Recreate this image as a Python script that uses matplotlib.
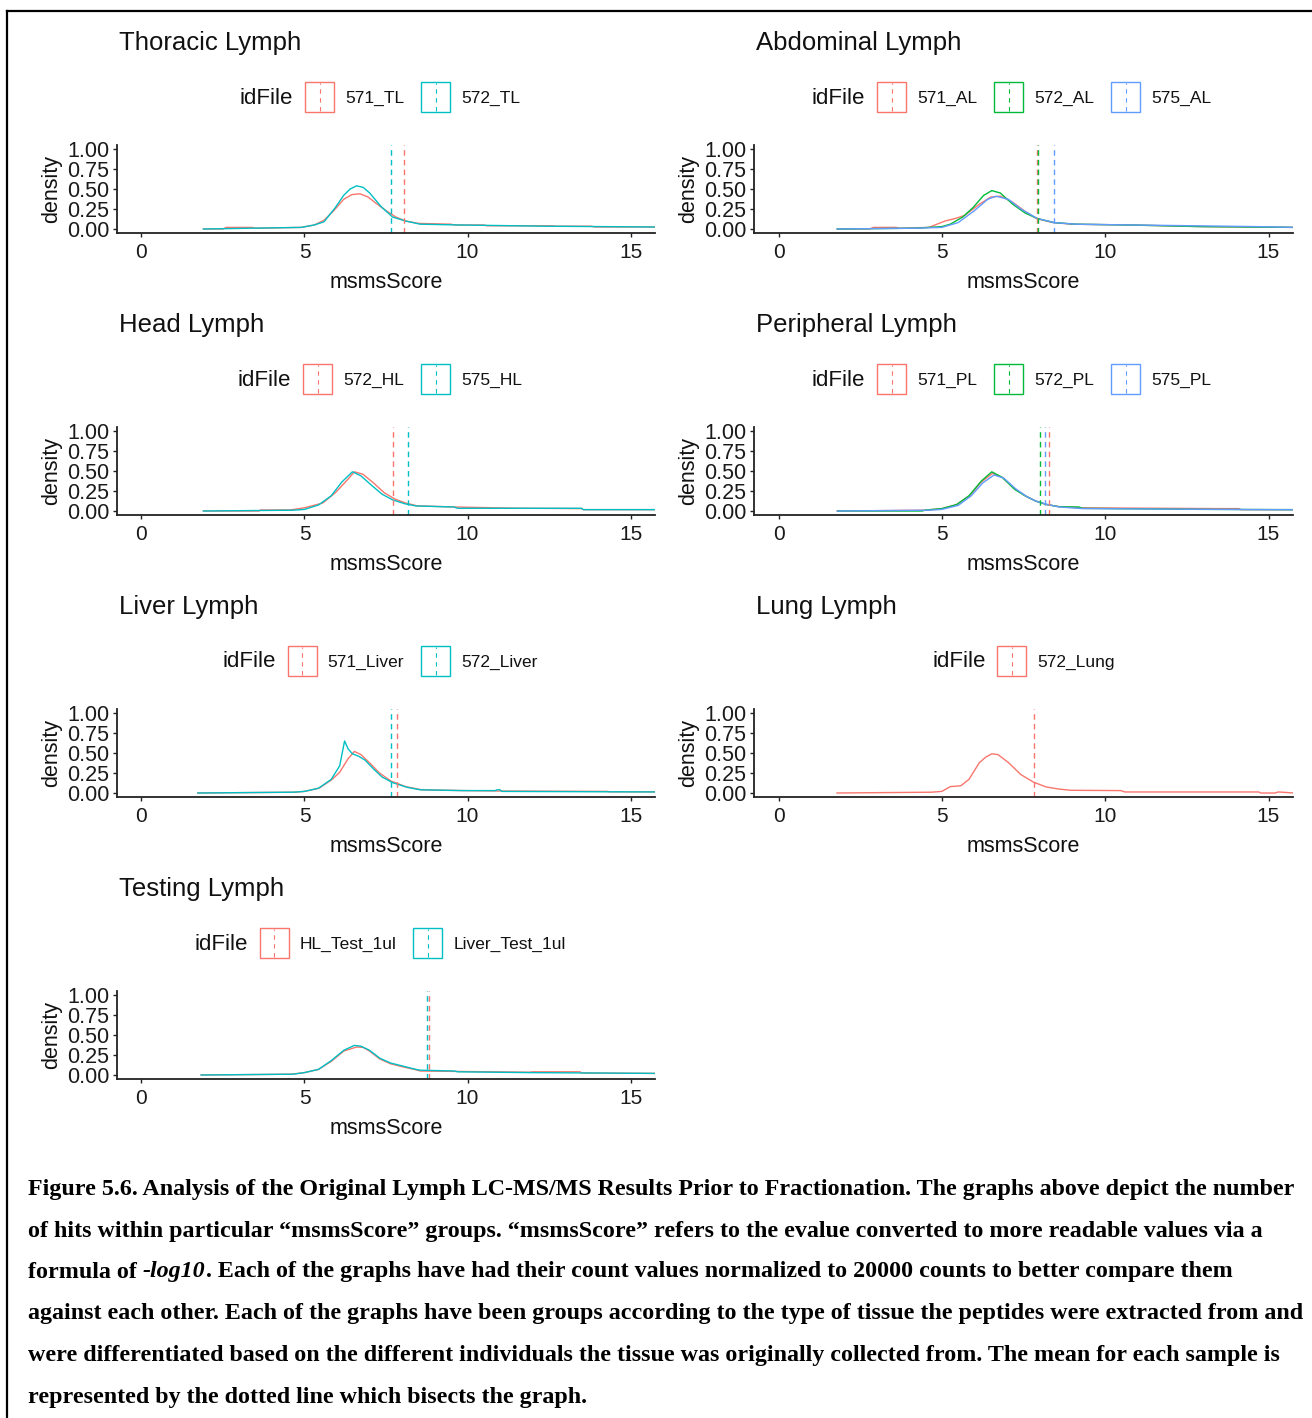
import matplotlib
matplotlib.use("Agg")
import matplotlib.pyplot as plt
from matplotlib.patches import Rectangle
from matplotlib.lines import Line2D

W, H = 1312, 1418
RED, CYAN, GREEN, BLUE = "#F8766D", "#00BFC4", "#00BA38", "#619CFF"

# ---- data (density vs msmsScore) ----
tl571_x = [1.9, 2.5, 2.6, 3.4, 3.5, 4.9, 5.3, 5.6, 5.9, 6.2, 6.45, 6.7, 6.95, 7.2, 7.5, 7.8, 8.1, 8.5, 9.5, 9.6, 10.5, 10.6, 12.6, 12.7, 13.8, 13.9, 15.8]
tl571_y = [0.0, 0.0, 0.02, 0.02, 0.01, 0.02, 0.05, 0.11, 0.23, 0.37, 0.43, 0.44, 0.40, 0.32, 0.23, 0.15, 0.10, 0.07, 0.06, 0.05, 0.05, 0.04, 0.04, 0.035, 0.035, 0.025, 0.025]
tl572_x = [1.9, 4.9, 5.3, 5.6, 5.95, 6.2, 6.4, 6.6, 6.8, 7.0, 7.35, 7.7, 8.1, 8.55, 9.8, 12.4, 15.8]
tl572_y = [0.0, 0.02, 0.05, 0.09, 0.27, 0.42, 0.50, 0.54, 0.52, 0.45, 0.28, 0.15, 0.10, 0.06, 0.05, 0.035, 0.025]
tl_means = [8.06, 7.66]

al571_x = [1.8, 2.8, 2.9, 3.6, 3.7, 4.6, 5.1, 5.4, 5.7, 6.15, 6.5, 6.8, 7.15, 7.55, 7.9, 8.4, 9.0, 10.8, 13.0, 15.8]
al571_y = [0.0, 0.0, 0.02, 0.02, 0.01, 0.02, 0.10, 0.13, 0.17, 0.31, 0.40, 0.41, 0.34, 0.22, 0.13, 0.08, 0.06, 0.05, 0.03, 0.02]
al572_x = [1.8, 4.2, 5.0, 5.26, 5.64, 5.96, 6.28, 6.53, 6.79, 7.17, 7.55, 7.93, 8.44, 9.1, 10.7, 12.9, 15.8]
al572_y = [0.0, 0.01, 0.03, 0.06, 0.15, 0.27, 0.42, 0.48, 0.45, 0.31, 0.20, 0.13, 0.08, 0.06, 0.05, 0.03, 0.02]
al575_x = [1.8, 4.2, 5.0, 5.5, 6.0, 6.4, 6.66, 7.04, 7.42, 7.93, 8.44, 9.1, 10.9, 14.6, 15.8]
al575_y = [0.0, 0.01, 0.02, 0.08, 0.23, 0.37, 0.41, 0.37, 0.25, 0.13, 0.08, 0.06, 0.05, 0.03, 0.02]
al_means = [7.91, 7.93, 8.42]

hl572_x = [1.9, 3.6, 3.65, 4.55, 5.0, 5.56, 5.95, 6.34, 6.53, 6.79, 7.12, 7.44, 7.77, 8.1, 8.45, 9.6, 11.5, 13.5, 13.55, 15.8]
hl572_y = [0.0, 0.0, 0.013, 0.013, 0.04, 0.10, 0.23, 0.40, 0.49, 0.46, 0.35, 0.23, 0.15, 0.10, 0.065, 0.05, 0.035, 0.03, 0.017, 0.017]
hl575_x = [1.9, 4.65, 5.0, 5.43, 5.82, 6.14, 6.47, 6.73, 7.06, 7.38, 7.7, 8.08, 8.42, 9.58, 9.7, 13.5, 13.55, 15.8]
hl575_y = [0.0, 0.01, 0.02, 0.075, 0.19, 0.36, 0.49, 0.44, 0.32, 0.21, 0.14, 0.09, 0.063, 0.05, 0.034, 0.034, 0.017, 0.017]
hl_means = [7.70, 8.16]

pl571_x = [1.8, 4.5, 5.0, 5.45, 5.85, 6.2, 6.55, 6.85, 7.23, 7.55, 7.87, 8.2, 8.6, 9.2, 13.5, 14.1, 14.15, 15.8]
pl571_y = [0.0, 0.01, 0.03, 0.08, 0.19, 0.36, 0.47, 0.42, 0.28, 0.19, 0.125, 0.08, 0.055, 0.04, 0.03, 0.03, 0.017, 0.017]
pl572_x = [1.81, 4.4, 4.5, 5.0, 5.45, 5.83, 6.21, 6.53, 6.85, 7.23, 7.55, 7.87, 8.19, 8.57, 9.2, 9.3, 13.0, 15.8]
pl572_y = [0.0, 0.0, 0.012, 0.03, 0.08, 0.19, 0.375, 0.49, 0.42, 0.27, 0.19, 0.125, 0.083, 0.054, 0.05, 0.033, 0.02, 0.017]
pl575_x = [1.8, 4.6, 5.0, 5.5, 5.9, 6.25, 6.6, 6.9, 7.25, 7.6, 7.9, 8.25, 8.6, 9.3, 15.8]
pl575_y = [0.0, 0.01, 0.02, 0.07, 0.19, 0.35, 0.45, 0.41, 0.28, 0.18, 0.12, 0.08, 0.05, 0.03, 0.015]
pl_means = [8.29, 8.00, 8.16]

lv571_x = [1.73, 4.7, 5.0, 5.45, 5.85, 6.08, 6.34, 6.53, 6.73, 6.99, 7.3, 7.65, 8.1, 8.6, 9.9, 10.9, 14.3, 14.35, 15.8]
lv571_y = [0.0, 0.01, 0.02, 0.06, 0.17, 0.26, 0.43, 0.52, 0.48, 0.38, 0.25, 0.15, 0.08, 0.04, 0.03, 0.025, 0.02, 0.015, 0.015]
lv572_x = [1.73, 4.65, 5.0, 5.43, 5.82, 6.08, 6.23, 6.34, 6.47, 6.66, 6.86, 7.12, 7.38, 7.7, 8.16, 8.55, 9.84, 10.85, 10.9, 11.0, 11.05, 15.8]
lv572_y = [0.0, 0.01, 0.02, 0.06, 0.17, 0.34, 0.65, 0.55, 0.49, 0.46, 0.41, 0.30, 0.20, 0.13, 0.07, 0.04, 0.03, 0.03, 0.04, 0.04, 0.02, 0.013]
lv_means = [7.83, 7.64]

lg572_x = [1.79, 4.68, 5.0, 5.26, 5.58, 5.83, 6.15, 6.35, 6.53, 6.72, 7.04, 7.42, 7.81, 8.19, 8.57, 8.95, 10.48, 10.6, 14.7, 14.76, 15.2, 15.3, 15.78]
lg572_y = [0.0, 0.01, 0.02, 0.08, 0.09, 0.17, 0.38, 0.45, 0.49, 0.48, 0.38, 0.23, 0.135, 0.076, 0.05, 0.034, 0.03, 0.013, 0.013, 0.0, 0.0, 0.013, 0.0]
lg_means = [7.81]

hlt_x = [1.83, 4.6, 5.0, 5.43, 5.82, 6.21, 6.6, 6.8, 6.99, 7.31, 7.64, 8.03, 8.42, 8.55, 9.6, 11.9, 12.0, 13.45, 13.5, 15.75]
hlt_y = [0.0, 0.01, 0.03, 0.07, 0.17, 0.30, 0.35, 0.345, 0.30, 0.20, 0.14, 0.10, 0.065, 0.05, 0.045, 0.035, 0.04, 0.04, 0.025, 0.02]
lvt_x = [1.83, 4.65, 5.0, 5.43, 5.82, 6.21, 6.53, 6.73, 6.99, 7.31, 7.64, 8.03, 8.42, 8.55, 9.6, 9.7, 11.9, 15.75]
lvt_y = [0.0, 0.01, 0.03, 0.07, 0.18, 0.31, 0.37, 0.36, 0.31, 0.21, 0.15, 0.11, 0.07, 0.06, 0.05, 0.04, 0.03, 0.02]
test_means = [8.83, 8.77]

panels = [
    ("Thoracic Lymph", ["571_TL", "572_TL"], [RED, CYAN], [(tl571_x, tl571_y), (tl572_x, tl572_y)], tl_means),
    ("Abdominal Lymph", ["571_AL", "572_AL", "575_AL"], [RED, GREEN, BLUE],
     [(al571_x, al571_y), (al572_x, al572_y), (al575_x, al575_y)], al_means),
    ("Head Lymph", ["572_HL", "575_HL"], [RED, CYAN], [(hl572_x, hl572_y), (hl575_x, hl575_y)], hl_means),
    ("Peripheral Lymph", ["571_PL", "572_PL", "575_PL"], [RED, GREEN, BLUE],
     [(pl571_x, pl571_y), (pl572_x, pl572_y), (pl575_x, pl575_y)], pl_means),
    ("Liver Lymph", ["571_Liver", "572_Liver"], [RED, CYAN], [(lv571_x, lv571_y), (lv572_x, lv572_y)], lv_means),
    ("Lung Lymph", ["572_Lung"], [RED], [(lg572_x, lg572_y)], lg_means),
    ("Testing Lymph", ["HL_Test_1ul", "Liver_Test_1ul"], [RED, CYAN], [(hlt_x, hlt_y), (lvt_x, lvt_y)], test_means),
]

caption = [
    [("Figure 5.6. Analysis of the Original Lymph LC-MS/MS Results Prior to Fractionation. The graphs above depict the number", "normal")],
    [("of hits within particular \u201cmsmsScore\u201d groups. \u201cmsmsScore\u201d refers to the evalue converted to more readable values via a", "normal")],
    [("formula of ", "normal"), ("-log10", "italic"),
     (". Each of the graphs have had their count values normalized to 20000 counts to better compare them", "normal")],
    [("against each other. Each of the graphs have been groups according to the type of tissue the peptides were extracted from and", "normal")],
    [("were differentiated based on the different individuals the tissue was originally collected from. The mean for each sample is", "normal")],
    [("represented by the dotted line which bisects the graph.", "normal")],
]

plt.rcParams["font.family"] = ["Liberation Sans", "DejaVu Sans"]
fig = plt.figure(figsize=(W / 100, H / 100), dpi=100)
rend = fig.canvas.get_renderer()


def fx(p):
    return p / W


def fy(p):
    return 1 - p / H


def text_w(t):
    return t.get_window_extent(rend).width


def draw_legend(cx, cy, labels, colors):
    title = fig.text(0, fy(cy + 1), "idFile", fontsize=16, va="center", ha="left", color="#111111")
    texts = [fig.text(0, fy(cy + 1), lab, fontsize=12.5, va="center", ha="left", color="#111111") for lab in labels]
    tw = text_w(title)
    lws = [text_w(t) for t in texts]
    total = tw + sum(12 + 29 + 11 + w for w in lws) + 17 * (len(labels) - 1)
    x = cx - total / 2
    title.set_x(fx(x))
    x += tw + 12
    for t, w, col in zip(texts, lws, colors):
        fig.add_artist(Rectangle((fx(x), fy(cy + 15)), 29 / W, 30 / H, transform=fig.transFigure,
                                 fill=False, ec=col, lw=1.0))
        fig.add_artist(Line2D([fx(x + 14.5)] * 2, [fy(cy + 14), fy(cy - 14)], transform=fig.transFigure,
                              color=col, lw=0.8, ls=(0, (4, 4))))
        x += 29 + 11
        t.set_x(fx(x))
        x += w + 17


col_x = [(117, 655), (754, 1293)]
row_top = [145, 427, 709, 991]
AX_H = 88

for i, (title, labels, colors, curves, means) in enumerate(panels):
    r, c = divmod(i, 2)
    x0, x1 = col_x[c]
    top = row_top[r]
    ax = fig.add_axes([fx(x0), fy(top + AX_H), (x1 - x0) / W, AX_H / H])
    for (xs, ys), col in zip(curves, colors):
        ax.plot(xs, ys, color=col, lw=1.0)
    for m, col in zip(means, colors):
        ax.axvline(m, color=col, lw=1.0, ls=(0, (4, 3)))
    ax.set_xlim(-0.75, 15.75)
    ax.set_ylim(-0.05, 1.05)
    ax.set_xticks([0, 5, 10, 15])
    ax.set_yticks([0, 0.25, 0.5, 0.75, 1.0])
    ax.set_yticklabels(["0.00", "0.25", "0.50", "0.75", "1.00"])
    for s in ["top", "right"]:
        ax.spines[s].set_visible(False)
    for s in ["left", "bottom"]:
        ax.spines[s].set_linewidth(1.3)
        ax.spines[s].set_color("#222222")
    ax.tick_params(length=3, width=1.0, color="#222222", labelsize=15, labelcolor="#1a1a1a", pad=2.5)
    ax.tick_params(axis="x", pad=4.5)
    ax.tick_params(axis="y", labelsize=15.5)
    ax.set_xlabel("msmsScore", fontsize=15.5, color="#111111")
    ax.xaxis.set_label_coords(0.5, -0.445)
    ax.set_ylabel("density", fontsize=15.5, color="#111111")
    ax.yaxis.set_label_coords(-0.102, 0.5)
    fig.text(fx(x0 + 2), fy(top - 102), title, fontsize=18.5, va="center", ha="left", color="#111111")
    draw_legend((x0 + x1) / 2, top - 48, labels, colors)

# frame lines
fig.add_artist(Line2D([fx(7), 1], [fy(11), fy(11)], transform=fig.transFigure, color="black", lw=1.6))
fig.add_artist(Line2D([fx(7), fx(7)], [fy(11), 0], transform=fig.transFigure, color="black", lw=1.6))

# caption, fitted so the first line spans the same width as in the source
serif = "Liberation Serif"
probe = fig.text(0, 0, caption[0][0][0], fontsize=10, family=serif, weight="bold")
cap_fs = 10 * 1268 / text_w(probe)
probe.remove()
cap_y = [1190, 1231, 1272, 1314, 1356, 1397]
bar = fig.text(0, 0, "|", fontsize=cap_fs, family=serif, weight="bold")
bar_w = text_w(bar)
bar.remove()
for segs, y in zip(caption, cap_y):
    x = 28
    for s, style in segs:
        t = fig.text(fx(x), fy(y), s, fontsize=cap_fs, family=serif, weight="bold", style=style,
                     va="center", ha="left", color="black")
        tmp = fig.text(0, 0, s + "|", fontsize=cap_fs, family=serif, weight="bold", style=style)
        x += text_w(tmp) - bar_w
        tmp.remove()

fig.savefig("out.png", dpi=100)
